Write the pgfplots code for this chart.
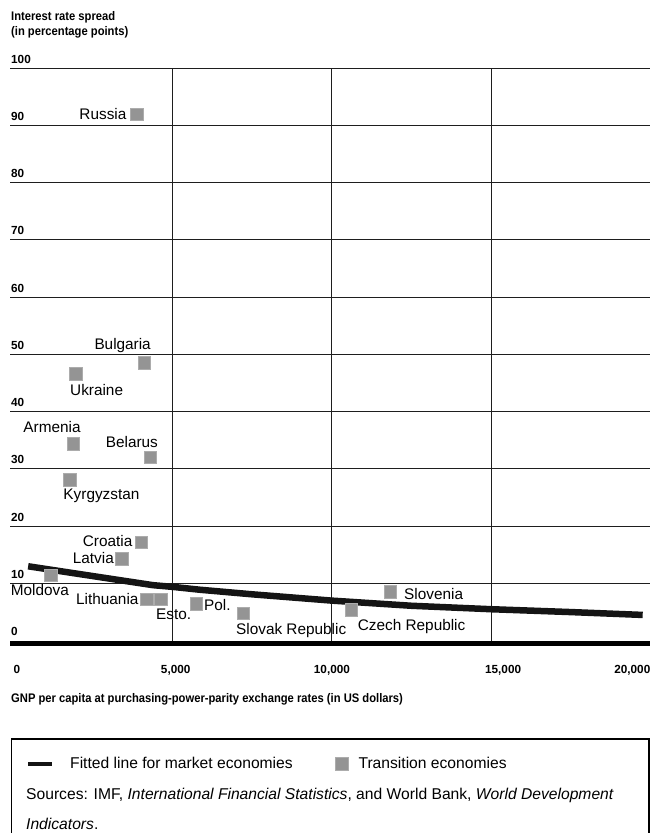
\documentclass[border=0pt]{standalone}
\usepackage{fontspec}
\setmainfont{Liberation Sans}
\newfontfamily\condfont{Liberation Sans}[FakeStretch=0.9]
\usepackage{pgfplots}
\pgfplotsset{compat=1.18}

\definecolor{markfill}{RGB}{148,148,148}
\definecolor{markdraw}{RGB}{172,172,172}
\definecolor{fitline}{RGB}{20,20,20}
\definecolor{gridc}{RGB}{30,30,30}

\newcommand{\ctry}{\fontsize{15.4}{18}\selectfont}
\newcommand{\tickf}{\fontsize{11.8}{13}\selectfont\bfseries}
\newcommand{\headf}{\condfont\fontsize{12.5}{15}\selectfont\bfseries}
\newcommand{\legf}{\fontsize{15.7}{19}\selectfont}

% transition economies: GNP per capita (PPP, US$), interest rate spread (points)
\pgfplotstableread{
x      y
3870   91.9
4107   48.5
1963   46.6
1878   34.4
4308   32.0
1774   28.1
4025   17.2
3407   14.3
1178   11.4
4192   7.2
4632   7.2
5753   6.4
7216   4.8
10620  5.4
11845  8.5
}\transition

\begin{document}
\begin{tikzpicture}[x=1bp,y=1bp]
\path[use as bounding box] (0,0) rectangle (650,833);

\begin{axis}[
  at={(10bp,192.3bp)}, anchor=south west,
  scale only axis, width=640.3bp, height=572.5bp,
  xmin=-110, xmax=20000, ymin=0, ymax=100,
  axis line style={draw=none}, tick style={draw=none},
  major tick length=0pt,
  scaled x ticks=false, scaled y ticks=false,
  xtick={0,5000,10000,15000,20000},
  xticklabels={\rlap{0},{\hspace*{6bp}5,000},{10,000},{\hspace*{24bp}15,000},\llap{20,000}},
  xticklabel style={anchor=base, inner sep=0pt, yshift=-33.3bp, font=\tickf},
  ytick={10,20,...,100},
  yticklabels={10,20,30,40,50,60,70,80,90,100},
  yticklabel style={anchor=base west, inner sep=0pt, xshift=1bp, yshift=5bp, font=\tickf},
  ymajorgrids,
  extra y ticks={0},
  extra y tick labels={0},
  extra y tick style={ymajorgrids=false},
  extra x ticks={5000,10000,15000},
  extra x tick labels={,,},
  extra x tick style={xmajorgrids=true},
  grid style={line width=1.1bp, draw=gridc},
  legend columns=2,
  legend cell align=left,
  legend style={at={(axis description cs:0.025,-0.2154)}, anchor=west,
    draw=none, fill=none, inner sep=0pt, font=\legf,
    nodes={inner sep=0pt},
    /tikz/column 1/.style={column sep=16bp},
    /tikz/column 2/.style={column sep=42bp},
    /tikz/column 3/.style={column sep=10bp}},
]

\addplot[line width=6.5bp, fitline, line join=round,
  legend image code/.code={\draw[line width=4bp,fitline] (0bp,0bp) -- (24bp,0bp);}]
  coordinates {(460,13.0) (2000,11.7) (4380,9.7) (5000,9.4) (5856,8.9) (7500,8.1)
               (10000,7.0) (12500,6.1) (15000,5.5) (17500,5.0) (19760,4.5)};
\addlegendentry{Fitted line for market economies}

\addplot[only marks, mark=square*, mark size=6.2bp,
  mark options={fill=markfill, draw=markdraw, line width=0.8bp},
  legend image code/.code={\node[draw=markdraw, fill=markfill, line width=0.8bp,
     minimum size=13bp, inner sep=0pt] at (6.5bp,0bp) {};}]
  table[x=x, y=y] {\transition};
\addlegendentry{Transition economies}
\end{axis}

% zero line
\draw[line width=5bp, black] (10,189.5) -- (650,189.5);

% country labels
\begin{scope}[every node/.style={anchor=base west, inner sep=0pt, font=\ctry}]
\node at (79.3,713) {Russia};
\node at (94.3,483) {Bulgaria};
\node at (70,437) {Ukraine};
\node at (23.3,400.3) {Armenia};
\node at (105.7,385.3) {Belarus};
\node at (63.3,333) {Kyrgyzstan};
\node at (82.7,286.3) {Croatia};
\node at (72.7,269.7) {Latvia};
\node at (10.7,237) {Moldova};
\node at (76,228.7) {Lithuania};
\node at (156,213) {Esto.};
\node at (204,222.5) {Pol.};
\node at (236,198) {Slovak Republic};
\node at (357.7,202.3) {Czech Republic};
\node at (404,233.7) {Slovenia};
\end{scope}

% titles
\node[anchor=base west, inner sep=0pt, font=\headf] at (11,812.3) {Interest rate spread};
\node[anchor=base west, inner sep=0pt, font=\headf] at (11,797) {(in percentage points)};
\node[anchor=base west, inner sep=0pt, font=\headf] at (11,130)
  {GNP per capita at purchasing-power-parity exchange rates (in US dollars)};

% legend box and sources
\draw[line width=1.3bp] (11.7,-5) -- (11.7,94) -- (649,94) -- (649,-5);
\node[anchor=base west, inner sep=0pt, font=\legf] at (26,33)
  {Sources: IMF, \textit{International Financial Statistics}, and World Bank, \textit{World Development}};
\node[anchor=base west, inner sep=0pt, font=\legf] at (26,3.7) {\textit{Indicators}.};
\end{tikzpicture}
\end{document}
